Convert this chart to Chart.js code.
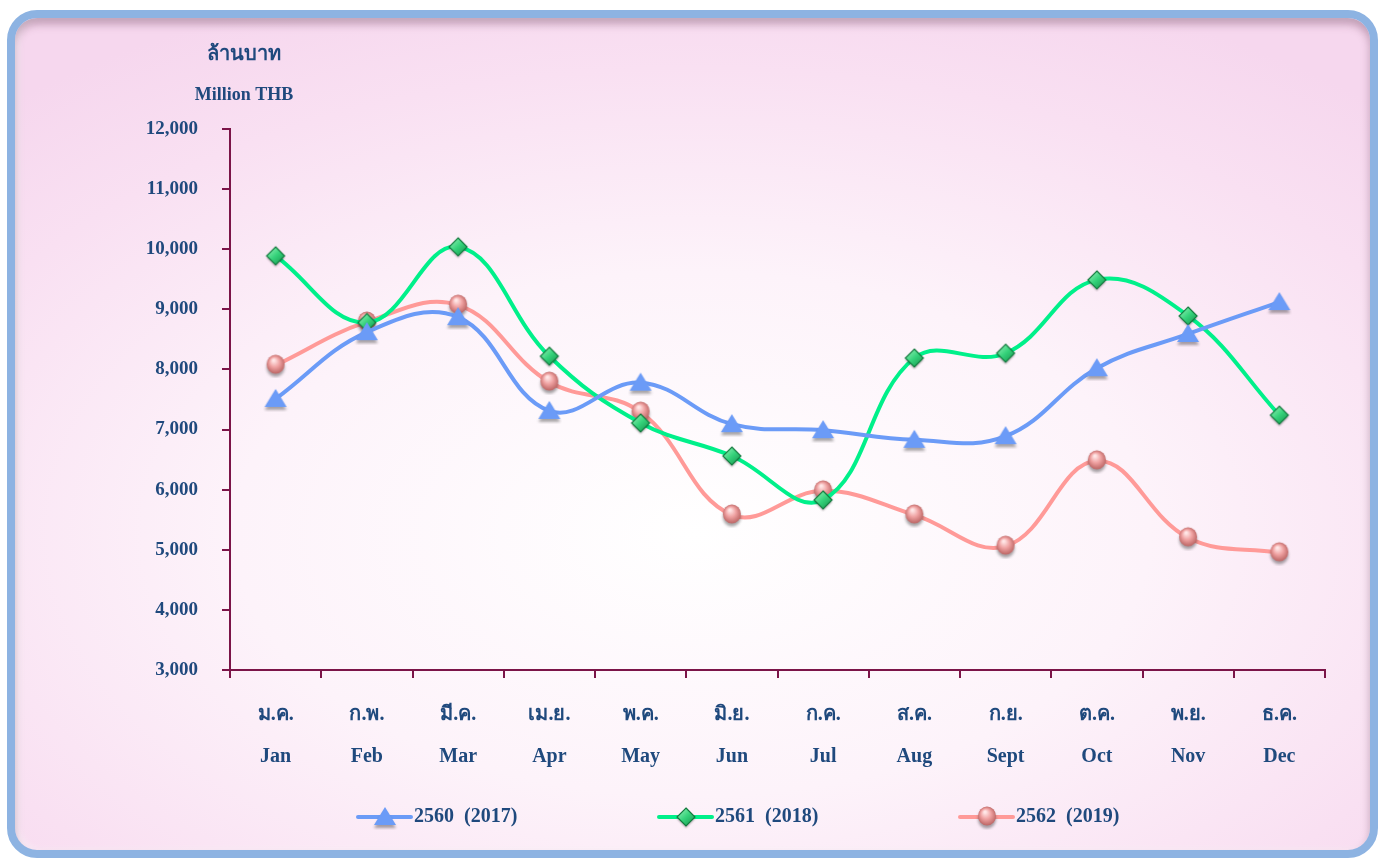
<!DOCTYPE html>
<html>
<head>
<meta charset="utf-8">
<script src="https://cdn.jsdelivr.net/npm/chart.js@4/dist/chart.umd.min.js"></script>
<style>
  html, body { margin: 0; padding: 0; background: #fff; }
  body { width: 1385px; height: 861px; position: relative; overflow: hidden; }
  #frame {
    position: absolute; left: 7px; top: 10px; width: 1355px; height: 832px;
    border: 8px solid #8db3e2; border-radius: 30px;
    background: radial-gradient(ellipse 75% 70% at 50% 62%, #ffffff 0%, #fdf3fa 45%, #f9e0f2 80%, #f6d7ee 100%);
    box-shadow: inset 0 6px 8px rgba(90, 40, 70, 0.35), inset 4px 0 6px rgba(255,255,255,0.6);
  }
  #wrap { position: absolute; left: 0; top: 0; width: 1385px; height: 861px; }
</style>
</head>
<body>
<div id="frame"></div>
<div id="wrap"><canvas id="chart" width="1385" height="861"></canvas></div>
<script>
// Data
const thaiMonths = ["ม.ค.", "ก.พ.", "มี.ค.", "เม.ย.", "พ.ค.", "มิ.ย.", "ก.ค.", "ส.ค.", "ก.ย.", "ต.ค.", "พ.ย.", "ธ.ค."];
const engMonths = ["Jan", "Feb", "Mar", "Apr", "May", "Jun", "Jul", "Aug", "Sept", "Oct", "Nov", "Dec"];
const values2560 = [7510, 8620, 8870, 7310, 7780, 7090, 6990, 6830, 6890, 8020, 8590, 9120];
const values2561 = [9890, 8780, 10040, 8220, 7110, 6560, 5830, 8190, 8270, 9490, 8890, 7240];
const values2562 = [8070, 8790, 9070, 7790, 7290, 5580, 5980, 5580, 5060, 6480, 5200, 4950];
const seriesNames = ["2560  (2017)", "2561  (2018)", "2562  (2019)"];

const textColor = "#1f497d";
const axisColor = "#7b1448";
const serif = "'Liberation Serif', 'Times New Roman', 'DejaVu Serif', serif";

// Marker images
function makeTriangle() {
  const c = document.createElement("canvas");
  c.width = 26; c.height = 26;
  const g = c.getContext("2d");
  g.shadowColor = "rgba(0,0,0,0.35)"; g.shadowOffsetY = 3; g.shadowBlur = 3;
  g.beginPath();
  g.moveTo(13, 3); g.lineTo(24, 21); g.lineTo(2, 21); g.closePath();
  g.fillStyle = "#6b9bf7";
  g.fill();
  return c;
}
function makeDiamond() {
  const c = document.createElement("canvas");
  c.width = 24; c.height = 24;
  const g = c.getContext("2d");
  g.shadowColor = "rgba(0,0,0,0.3)"; g.shadowOffsetY = 2; g.shadowBlur = 2;
  g.beginPath();
  g.moveTo(12, 3); g.lineTo(21, 12); g.lineTo(12, 21); g.lineTo(3, 12); g.closePath();
  const grad = g.createLinearGradient(5, 4, 19, 20);
  grad.addColorStop(0, "#8ff0b4"); grad.addColorStop(0.5, "#35d27a"); grad.addColorStop(1, "#1a9a52");
  g.fillStyle = grad;
  g.fill();
  g.shadowColor = "transparent";
  g.lineWidth = 1.2; g.strokeStyle = "#137a3e"; g.stroke();
  return c;
}
function makeSphere() {
  const c = document.createElement("canvas");
  c.width = 26; c.height = 26;
  const g = c.getContext("2d");
  g.shadowColor = "rgba(0,0,0,0.35)"; g.shadowOffsetY = 3; g.shadowBlur = 3;
  g.beginPath();
  g.ellipse(13, 12, 9, 9.5, 0, 0, Math.PI * 2);
  const grad = g.createRadialGradient(11, 8, 1, 13, 12, 10);
  grad.addColorStop(0, "#ffe6e6"); grad.addColorStop(0.45, "#f0a3a3"); grad.addColorStop(1, "#b8605f");
  g.fillStyle = grad;
  g.fill();
  return c;
}
const markers = [makeTriangle(), makeDiamond(), makeSphere()];
const lineColors = ["#6b9bf7", "#00f08a", "#ff9a98"];

// Titles and legend drawn on canvas
const decorPlugin = {
  id: "decor",
  afterDraw(chart) {
    const ctx = chart.ctx;
    ctx.save();
    ctx.fillStyle = textColor;
    ctx.textAlign = "center";
    ctx.textBaseline = "middle";
    ctx.font = "bold 20px " + serif;
    ctx.fillText("ล้านบาท", 244, 55);
    ctx.font = "bold 18px " + serif;
    ctx.fillText("Million THB", 244, 95);

    const starts = [358, 659, 960];
    const y = 817;
    ctx.font = "bold 20px " + serif;
    ctx.textAlign = "left";
    starts.forEach((x, i) => {
      ctx.strokeStyle = lineColors[i];
      ctx.lineWidth = 4;
      ctx.lineCap = "round";
      ctx.beginPath();
      ctx.moveTo(x, y); ctx.lineTo(x + 53, y);
      ctx.stroke();
      const m = markers[i];
      ctx.drawImage(m, x + 27 - m.width / 2, y - m.height / 2);
      ctx.fillStyle = textColor;
      ctx.fillText(seriesNames[i], x + 56, y);
    });
    ctx.restore();
  },
};

function makeDataset(label, data, i) {
  return {
    label: label,
    data: data,
    borderColor: lineColors[i],
    backgroundColor: lineColors[i],
    borderWidth: 4,
    tension: 0.4,
    pointStyle: markers[i],
    pointRadius: 10,
    fill: false,
  };
}

const ctx = document.getElementById("chart").getContext("2d");
new Chart(ctx, {
  type: "line",
  data: {
    labels: thaiMonths.map((t, i) => [t, engMonths[i]]),
    datasets: [
      makeDataset(seriesNames[0], values2560, 0),
      makeDataset(seriesNames[1], values2561, 1),
      makeDataset(seriesNames[2], values2562, 2),
    ],
  },
  options: {
    responsive: false,
    animation: false,
    layout: { padding: { top: 129, right: 60, left: 0, bottom: 0 } },
    plugins: {
      legend: { display: false },
      tooltip: { enabled: false },
    },
    scales: {
      y: {
        min: 3000,
        max: 12000,
        afterFit: (s) => { s.width = 230; },
        ticks: {
          stepSize: 1000,
          color: textColor,
          padding: 24,
          font: { family: serif, size: 19, weight: "bold" },
          callback: (v) => v.toLocaleString("en-US"),
        },
        grid: { drawOnChartArea: false, color: axisColor, tickLength: 8, lineWidth: 2 },
        border: { color: axisColor, width: 2 },
      },
      x: {
        offset: true,
        afterFit: (s) => { s.height = 191; },
        ticks: {
          color: textColor,
          padding: 16,
          maxRotation: 0,
          font: { family: serif, size: 20, weight: "bold", lineHeight: 2.1 },
        },
        grid: { offset: true, drawOnChartArea: false, color: axisColor, tickLength: 8, lineWidth: 2 },
        border: { color: axisColor, width: 2 },
      },
    },
  },
  plugins: [decorPlugin],
});
</script>
</body>
</html>
